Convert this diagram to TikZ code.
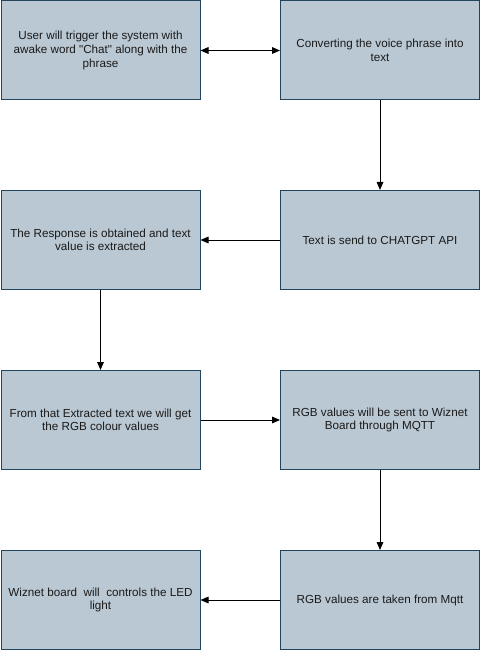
\documentclass[tikz,border=0pt]{standalone}
\usepackage{fontspec}
\newfontfamily\arialf{Liberation Sans}
\usetikzlibrary{arrows.meta}
\definecolor{boxfill}{HTML}{BAC8D3}
\definecolor{boxline}{HTML}{23445D}
\definecolor{txt}{HTML}{1A1A1A}
\begin{document}
\begin{tikzpicture}[x=0.75pt,y=-0.75pt,
  flowbox/.style={draw=boxline,fill=boxfill,line width=0.75pt,minimum width=149.25pt,minimum height=74.25pt,inner sep=0pt,
    align=center,font=\arialf\fontsize{8.75pt}{10.2pt}\selectfont,text=txt},
  tip/.style={Triangle[length=6pt,width=5pt]},
  conn/.style={line width=0.75pt,-{Triangle[length=6pt,width=5pt]}}]
\useasboundingbox[fill=white] (0,0) rectangle (482,652);
\node[flowbox] (a) at (100.5,50.5) {User will trigger the system with\\awake word "Chat" along with the\\phrase};
\node[flowbox] (b) at (380,50.5) {Converting the voice phrase into\\text};
\node[flowbox] (c) at (380,240) {Text is send to CHATGPT API};
\node[flowbox] (d) at (100.5,240) {The Response is obtained and text\\value is extracted};
\node[flowbox] (e) at (100.5,420) {From that Extracted text we will get\\the RGB colour values};
\node[flowbox] (f) at (380,420) {RGB values will be sent to Wiznet\\Board through MQTT};
\node[flowbox] (g) at (380,600) {RGB values are taken from Mqtt};
\node[flowbox] (h) at (100.5,600) {Wiznet board\ \ will\ \ controls the LED\\light};
\draw[line width=0.75pt,{Triangle[length=6pt,width=5pt]}-{Triangle[length=6pt,width=5pt]}] (a) -- (b);
\draw[conn] (b) -- (c);
\draw[conn] (c) -- (d);
\draw[conn] (d) -- (e);
\draw[conn] (e) -- (f);
\draw[conn] (f) -- (g);
\draw[conn] (g) -- (h);
\end{tikzpicture}
\end{document}
